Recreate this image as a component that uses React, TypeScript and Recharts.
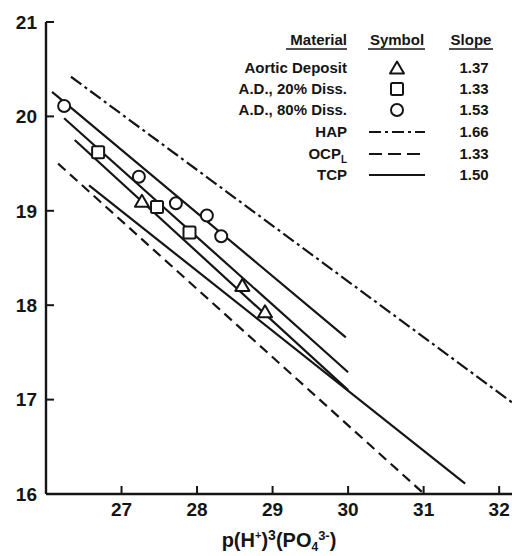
import React from "react";
import { ComposedChart, Line, Scatter, XAxis, YAxis, Legend, Label } from "recharts";

// ---- data ----
const xTicks = [27, 28, 29, 30, 31, 32];
const yTicks = [16, 17, 18, 19, 20, 21];
const topTicks = [27, 28];
const rightTicks = [17, 18, 19, 20];

const aorticDeposit = [
  { x: 27.27, y: 19.1 },
  { x: 28.6, y: 18.21 },
  { x: 28.9, y: 17.93 },
];
const diss20 = [
  { x: 26.69, y: 19.62 },
  { x: 27.47, y: 19.04 },
  { x: 27.9, y: 18.77 },
];
const diss80 = [
  { x: 26.24, y: 20.11 },
  { x: 27.23, y: 19.36 },
  { x: 27.72, y: 19.08 },
  { x: 28.13, y: 18.95 },
  { x: 28.32, y: 18.73 },
];

const hapLine = [
  { x: 26.33, y: 20.42 },
  { x: 32.17, y: 16.97 },
];
const lineA = [
  { x: 26.08, y: 20.26 },
  { x: 29.97, y: 17.66 },
];
const lineB = [
  { x: 26.24, y: 19.98 },
  { x: 30.0, y: 17.29 },
];
const lineC = [
  { x: 26.38, y: 19.75 },
  { x: 30.0, y: 17.1 },
];
const ocpLine = [
  { x: 26.16, y: 19.5 },
  { x: 30.98, y: 16.02 },
];
const tcpLine = [
  { x: 26.57, y: 19.27 },
  { x: 31.55, y: 16.11 },
];

const materialNames = ["Aortic Deposit", "A.D., 20% Diss.", "A.D., 80% Diss.", "HAP", "OCP", "TCP"];
const materialSubs = ["", "", "", "", "L", ""];
const materialSymbols = ["triangle", "square", "circle", "dashdot", "dashed", "solid"];
const slopes = ["1.37", "1.33", "1.53", "1.66", "1.33", "1.50"];
const headers = ["Material", "Symbol", "Slope"];

// ---- style ----
const INK = "#151515";
const FONT = "'Liberation Sans', Arial, Helvetica, sans-serif";
const X_DOMAIN: [number, number] = [26, 32.17];
const Y_DOMAIN: [number, number] = [16, 21];

const LeftTick = (p: any) => (
  <g>
    <line x1={p.x} x2={p.x + 8} y1={p.y} y2={p.y} stroke={INK} strokeWidth={2} />
    <text x={p.x - 9} y={p.y} dy="0.36em" textAnchor="end" fontSize={19} fontWeight="bold" fontFamily={FONT} fill={INK}>
      {p.payload.value}
    </text>
  </g>
);
const BottomTick = (p: any) => (
  <g>
    <line x1={p.x} x2={p.x} y1={p.y} y2={p.y - 8} stroke={INK} strokeWidth={2} />
    <text x={p.x} y={p.y + 22} textAnchor="middle" fontSize={19} fontWeight="bold" fontFamily={FONT} fill={INK}>
      {p.payload.value}
    </text>
  </g>
);
const TopTick = (p: any) => (
  <line x1={p.x} x2={p.x} y1={p.y} y2={p.y + 7} stroke={INK} strokeWidth={2} />
);
const RightTick = (p: any) => (
  <line x1={p.x} x2={p.x - 6} y1={p.y} y2={p.y} stroke={INK} strokeWidth={2} />
);

const XTitle = (props: any) => {
  const vb = props.viewBox || { x: 46, y: 494, width: 466, height: 62 };
  const cx = vb.x + vb.width / 2;
  const y = vb.y + 53;
  return (
    <text x={cx} y={y} textAnchor="middle" fontSize={20} fontWeight="bold" fontFamily={FONT} fill={INK}>
      <tspan>p(H</tspan>
      <tspan dy={-8} fontSize={11}>+</tspan>
      <tspan dy={8}>)</tspan>
      <tspan dy={-7} fontSize={14}>3</tspan>
      <tspan dy={7}>(PO</tspan>
      <tspan dy={4} fontSize={12}>4</tspan>
      <tspan dy={-11} fontSize={13}>3-</tspan>
      <tspan dy={7}>)</tspan>
    </text>
  );
};

const MarkerShape = ({ kind, cx, cy }: { kind: string; cx: number; cy: number }) => {
  if (kind === "circle") return <circle cx={cx} cy={cy} r={6} fill="#fff" stroke={INK} strokeWidth={2} />;
  if (kind === "square")
    return <rect x={cx - 6} y={cy - 6} width={12} height={12} rx={1.5} fill="#fff" stroke={INK} strokeWidth={2} />;
  return (
    <polygon
      points={`${cx},${cy - 6.5} ${cx + 7},${cy + 5.5} ${cx - 7},${cy + 5.5}`}
      fill="#fff"
      stroke={INK}
      strokeWidth={2}
      strokeLinejoin="round"
    />
  );
};

const LegendTable = () => {
  const rowY = [68, 89, 110, 132, 154, 175];
  const matRight = 347;
  const symX = 397;
  const slopeX = 474;
  return (
    <svg width={512} height={200} style={{ display: "block" }}>
      <g fontFamily={FONT} fontWeight="bold" fill={INK} fontSize={15}>
        <text x={matRight} y={45} textAnchor="end">{headers[0]}</text>
        <text x={symX} y={45} textAnchor="middle">{headers[1]}</text>
        <text x={471} y={45} textAnchor="middle">{headers[2]}</text>
        <line x1={286} x2={347} y1={49} y2={49} stroke={INK} strokeWidth={1.5} />
        <line x1={368} x2={425} y1={49} y2={49} stroke={INK} strokeWidth={1.5} />
        <line x1={449} x2={493} y1={49} y2={49} stroke={INK} strokeWidth={1.5} />
        {materialNames.map((m, i) => (
          <g key={m}>
            <text x={matRight} y={rowY[i] + 5} textAnchor="end">
              {m}
              {materialSubs[i] ? (
                <tspan fontSize={10} dy={4}>{materialSubs[i]}</tspan>
              ) : null}
            </text>
            <text x={slopeX} y={rowY[i] + 5} textAnchor="middle">{slopes[i]}</text>
            {materialSymbols[i] === "triangle" || materialSymbols[i] === "square" || materialSymbols[i] === "circle" ? (
              <MarkerShape kind={materialSymbols[i]} cx={symX} cy={rowY[i]} />
            ) : (
              <line
                x1={369}
                x2={425}
                y1={rowY[i]}
                y2={rowY[i]}
                stroke={INK}
                strokeWidth={2}
                strokeDasharray={
                  materialSymbols[i] === "dashdot" ? "12 4 3 4" : materialSymbols[i] === "dashed" ? "13 6" : undefined
                }
              />
            )}
          </g>
        ))}
      </g>
    </svg>
  );
};

export default function App() {
  return (
    <div style={{ position: "absolute", left: 0, top: 0, width: 512, height: 556, background: "#fff" }}>
      <ComposedChart width={512} height={556} margin={{ top: 22, right: 0, bottom: 0, left: 0 }}>
        <XAxis
          xAxisId="b"
          dataKey="x"
          type="number"
          domain={X_DOMAIN}
          allowDataOverflow
          ticks={xTicks}
          orientation="bottom"
          height={62}
          axisLine={{ stroke: INK, strokeWidth: 2.4 }}
          tickLine={false}
          tickSize={0}
          tickMargin={0}
          tick={BottomTick}
          interval={0}
        >
          <Label content={XTitle} />
        </XAxis>
        <XAxis
          xAxisId="top"
          dataKey="x"
          type="number"
          domain={X_DOMAIN}
          allowDataOverflow
          ticks={topTicks}
          orientation="top"
          height={0}
          axisLine={{ stroke: INK, strokeWidth: 2 }}
          tickLine={false}
          tickSize={0}
          tickMargin={0}
          tick={TopTick}
          interval={0}
        />
        <YAxis
          yAxisId="l"
          dataKey="y"
          type="number"
          domain={Y_DOMAIN}
          allowDataOverflow
          ticks={yTicks}
          width={46}
          axisLine={{ stroke: INK, strokeWidth: 2.4 }}
          tickLine={false}
          tickSize={0}
          tickMargin={0}
          tick={LeftTick}
          interval={0}
        />
        <YAxis
          yAxisId="r"
          orientation="right"
          type="number"
          domain={Y_DOMAIN}
          allowDataOverflow
          ticks={rightTicks}
          width={0}
          axisLine={{ stroke: INK, strokeWidth: 2 }}
          tickLine={false}
          tickSize={0}
          tickMargin={0}
          tick={RightTick}
          interval={0}
        />
        <Line xAxisId="b" yAxisId="l" data={hapLine} dataKey="y" stroke={INK} strokeWidth={2.2} strokeDasharray="13 4 3 4" dot={false} isAnimationActive={false} />
        <Line xAxisId="b" yAxisId="l" data={lineA} dataKey="y" stroke={INK} strokeWidth={2.2} dot={false} isAnimationActive={false} />
        <Line xAxisId="b" yAxisId="l" data={lineB} dataKey="y" stroke={INK} strokeWidth={2.2} dot={false} isAnimationActive={false} />
        <Line xAxisId="b" yAxisId="l" data={lineC} dataKey="y" stroke={INK} strokeWidth={2.2} dot={false} isAnimationActive={false} />
        <Line xAxisId="b" yAxisId="l" data={ocpLine} dataKey="y" stroke={INK} strokeWidth={2.2} strokeDasharray="10 6" dot={false} isAnimationActive={false} />
        <Line xAxisId="b" yAxisId="l" data={tcpLine} dataKey="y" stroke={INK} strokeWidth={2.2} dot={false} isAnimationActive={false} />
        <Scatter xAxisId="b" yAxisId="l" data={aorticDeposit} dataKey="y" isAnimationActive={false}
          shape={(p: any) => <MarkerShape kind="triangle" cx={p.cx} cy={p.cy} />} />
        <Scatter xAxisId="b" yAxisId="l" data={diss20} dataKey="y" isAnimationActive={false}
          shape={(p: any) => <MarkerShape kind="square" cx={p.cx} cy={p.cy} />} />
        <Scatter xAxisId="b" yAxisId="l" data={diss80} dataKey="y" isAnimationActive={false}
          shape={(p: any) => <MarkerShape kind="circle" cx={p.cx} cy={p.cy} />} />
        <Legend
          layout="vertical"
          align="center"
          verticalAlign="middle"
          wrapperStyle={{ position: "absolute", left: 0, top: 0, width: 512, height: 200, pointerEvents: "none" }}
          content={() => <LegendTable />}
        />
      </ComposedChart>
    </div>
  );
}
